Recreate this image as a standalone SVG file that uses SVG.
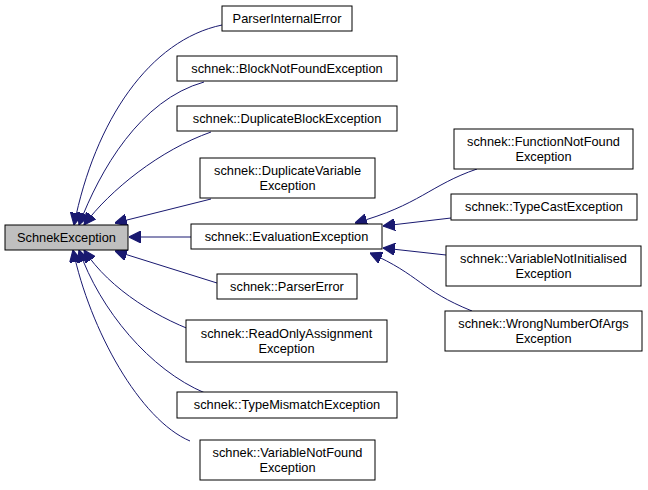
<svg xmlns="http://www.w3.org/2000/svg" width="648" height="490" viewBox="0 0 648 490">
<style>
rect{fill:#fff;stroke:#000;stroke-width:1}
text{font-family:"Liberation Sans",Arial,sans-serif;font-size:12.8px;text-anchor:middle;fill:#000}
.e{fill:none;stroke:#191970;stroke-width:1}
</style>
<defs><marker id="a" viewBox="0 0 10 10" refX="10" refY="5" markerWidth="12" markerHeight="12" markerUnits="userSpaceOnUse" orient="auto"><path d="M0,0L10,5L0,10z" fill="#191970" stroke="#191970"/></marker></defs>
<rect width="648" height="490" style="fill:#fff;stroke:none"/>
<g id="edges">
<path class="e" marker-end="url(#a)" d="M222,25C150,40 95,120 74,225"/>
<path class="e" marker-end="url(#a)" d="M204,82C140,100 100,170 79,225"/>
<path class="e" marker-end="url(#a)" d="M211,132C160,150 110,190 84,225"/>
<path class="e" marker-end="url(#a)" d="M211,199L115,223"/>
<path class="e" marker-end="url(#a)" d="M191,237L129,237"/>
<path class="e" marker-end="url(#a)" d="M217,283L115,251"/>
<path class="e" marker-end="url(#a)" d="M205,335C160,320 110,290 84,250"/>
<path class="e" marker-end="url(#a)" d="M205,393C150,370 100,310 79,250"/>
<path class="e" marker-end="url(#a)" d="M190,441C140,420 90,330 73,250"/>
<path class="e" marker-end="url(#a)" d="M477,169C430,185 420,205 355,223"/>
<path class="e" marker-end="url(#a)" d="M451,218L383,226"/>
<path class="e" marker-end="url(#a)" d="M446,255L383,248"/>
<path class="e" marker-end="url(#a)" d="M472,311C420,290 420,275 370,253"/>
</g>
<g id="n0"><rect x="5" y="225" width="123" height="25" style="fill:#bfbfbf"/><text x="66.5" y="242">SchnekException</text></g>
<g id="n1"><rect x="222" y="6" width="130" height="25"/><text x="287" y="23">ParserInternalError</text></g>
<g id="n2"><rect x="177" y="56" width="220" height="25"/><text x="287" y="73">schnek::BlockNotFoundException</text></g>
<g id="n3"><rect x="177" y="106" width="220" height="25"/><text x="287" y="123">schnek::DuplicateBlockException</text></g>
<g id="n4"><rect x="200" y="158" width="175" height="40"/><text x="287.5" y="175">schnek::DuplicateVariable</text><text x="287.5" y="190">Exception</text></g>
<g id="n5"><rect x="191" y="224" width="191" height="25"/><text x="286.5" y="241">schnek::EvaluationException</text></g>
<g id="n6"><rect x="217" y="274" width="140" height="25"/><text x="287" y="291">schnek::ParserError</text></g>
<g id="n7"><rect x="186" y="320" width="201" height="42"/><text x="286.5" y="338">schnek::ReadOnlyAssignment</text><text x="286.5" y="353">Exception</text></g>
<g id="n8"><rect x="177" y="392" width="220" height="26"/><text x="287" y="409">schnek::TypeMismatchException</text></g>
<g id="n9"><rect x="200" y="440" width="175" height="40"/><text x="287.5" y="457">schnek::VariableNotFound</text><text x="287.5" y="472">Exception</text></g>
<g id="n10"><rect x="454" y="129" width="179" height="40"/><text x="543.5" y="146">schnek::FunctionNotFound</text><text x="543.5" y="161">Exception</text></g>
<g id="n11"><rect x="451" y="194" width="186" height="26"/><text x="544" y="211">schnek::TypeCastException</text></g>
<g id="n12"><rect x="446" y="246" width="195" height="40"/><text x="543.5" y="263">schnek::VariableNotInitialised</text><text x="543.5" y="278">Exception</text></g>
<g id="n13"><rect x="445" y="311" width="197" height="40"/><text x="543.5" y="328">schnek::WrongNumberOfArgs</text><text x="543.5" y="343">Exception</text></g>
</svg>
